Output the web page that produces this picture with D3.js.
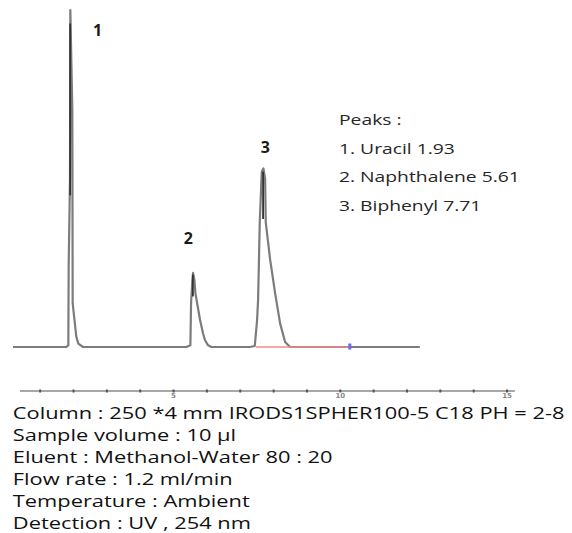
<!DOCTYPE html>
<html>
<head>
<meta charset="utf-8">
<script src="https://cdnjs.cloudflare.com/ajax/libs/d3/7.8.5/d3.min.js"></script>
<style>
  body { margin: 0; background: #fff; }
  svg { display: block; }
</style>
</head>
<body>
<div id="chart"></div>
<script>
// Trace: retention time (min) and signal (% of peak 1)
var traceTime = [0.2, 1.80, 1.86, 1.87, 1.91, 1.92, 1.98, 1.99, 2.10, 2.16, 2.30,
  5.40, 5.52, 5.54, 5.58, 5.60, 5.64, 5.67, 5.74, 5.81, 5.90, 5.96, 6.05, 6.15,
  7.30, 7.45, 7.52, 7.55, 7.60, 7.66, 7.71, 7.76, 7.78, 7.91, 8.06, 8.21, 8.36, 8.51, 12.4];
var traceSignal = [0, 0, 0.5, 24, 50, 100, 70, 13, 3, 1, 0,
  0, 0.5, 13, 20, 22, 20, 16, 12, 8, 4, 2, 0.5, 0,
  0, 0.3, 8, 14, 37, 52, 53, 50, 37, 26, 16, 7, 1.5, 0, 0];

// Peak numbers and retention times
var peakNames = ["Uracil", "Naphthalene", "Biphenyl"];
var peakTimes = [1.93, 5.61, 7.71];
var peakHeights = [100, 22, 53];

// Integration baseline of peak 3 (red) and its end marker (blue)
var integStart = 7.49;
var integEnd = 10.3;

// Time axis
var axisStart = 0.41;
var axisEnd = 15.25;
var axisTicks = d3.range(1, 16);
var axisLabels = [5, 10, 15];

var conditions = [
  "Column : 250 *4 mm IRODS1SPHER100-5 C18 PH = 2-8",
  "Sample volume : 10 \u00b5l",
  "Eluent : Methanol-Water 80 : 20",
  "Flow rate : 1.2 ml/min",
  "Temperature : Ambient",
  "Detection : UV , 254 nm"
];

var svgWidth = 572;
var svgHeight = 533;

var svg = d3.select("#chart")
  .append("svg")
  .attr("width", svgWidth)
  .attr("height", svgHeight);

// Scales
var x = d3.scaleLinear().domain([0, 15]).range([6.3, 6.3 + 15 * 33.35]);
var y = d3.scaleLinear().domain([0, 100]).range([347, 10]);

var trace = traceTime.map((t, i) => [t, traceSignal[i]]);

var line = d3.line()
  .x(d => x(d[0]))
  .y(d => y(d[1]));

svg.append("path")
  .datum(trace)
  .attr("fill", "none")
  .attr("stroke", "#7c7c7c")
  .attr("stroke-width", 2.2)
  .attr("stroke-linejoin", "round")
  .attr("d", line);

// dark cores on the peaks (the trace overlaps itself there)
var cores = [[[1.915, 96], [1.915, 45]], [[5.595, 21.5], [5.595, 15]], [[7.70, 52], [7.70, 38]]];
cores.forEach(c => {
  svg.append("path")
    .datum(c)
    .attr("stroke", "#333")
    .attr("stroke-width", 1.8)
    .attr("d", line);
});

// red integration baseline and blue marker
svg.append("line")
  .attr("x1", x(integStart))
  .attr("x2", x(integEnd))
  .attr("y1", y(0))
  .attr("y2", y(0))
  .attr("stroke", "#f08a8a")
  .attr("stroke-width", 1.6);

svg.append("rect")
  .attr("x", x(integEnd) - 1.5)
  .attr("y", y(0) - 3.5)
  .attr("width", 3)
  .attr("height", 6)
  .attr("fill", "#6a6af0");

// Peak numbers
var labelDx = [27, -5, 2];
var labelDy = [26, -29, -15];
svg.selectAll("text.peakNum")
  .data(peakTimes)
  .enter().append("text")
  .attr("class", "peakNum")
  .attr("x", (d, i) => x(d) + labelDx[i])
  .attr("y", (d, i) => y(peakHeights[i]) + labelDy[i])
  .attr("text-anchor", "middle")
  .attr("font-family", "Open Sans")
  .attr("font-size", 16)
  .attr("font-weight", 700)
  .attr("fill", "#1a1a1a")
  .text((d, i) => i + 1);

// Peaks legend
var legend = svg.append("g")
  .attr("font-family", "Open Sans")
  .attr("font-size", 14)
  .attr("fill", "#262626");

var legendLines = ["Peaks :"].concat(peakNames.map((n, i) => (i + 1) + ". " + n + " " + peakTimes[i].toFixed(2)));
legend.selectAll("text")
  .data(legendLines)
  .enter().append("text")
  .attr("x", 0)
  .attr("y", (d, i) => i * 28.7)
  .text(d => d);

var legendScale = 181 / legend.selectAll("text").nodes()[2].getComputedTextLength();
legend.attr("transform", `translate(339, 125) scale(${legendScale}, 1)`);

// Time axis
var axisG = svg.append("g")
  .attr("transform", "translate(0, 391)");

axisG.append("line")
  .attr("x1", x(axisStart))
  .attr("x2", x(axisEnd))
  .attr("stroke", "#8a8a8a")
  .attr("stroke-width", 1.3);

var bottomAxis = d3.axisBottom(x)
  .tickValues(axisTicks)
  .tickSizeInner(2)
  .tickSizeOuter(0)
  .tickPadding(0)
  .tickFormat(d => axisLabels.indexOf(d) >= 0 ? d : "");

axisG.append("g")
  .call(bottomAxis)
  .call(g => g.select(".domain").remove())
  .call(g => g.selectAll(".tick line")
    .attr("y1", -1.5)
    .attr("y2", 1.5)
    .attr("stroke", "#555")
    .attr("stroke-width", 2))
  .call(g => g.selectAll(".tick text")
    .filter(d => axisLabels.indexOf(d) < 0)
    .remove())
  .call(g => g.selectAll(".tick text")
    .attr("font-family", "DejaVu Sans")
    .attr("font-size", 7)
    .attr("font-weight", 700)
    .attr("fill", "#888"));

// Run conditions
var cond = svg.append("g")
  .attr("font-family", "Open Sans")
  .attr("font-size", 17)
  .attr("fill", "#111");

cond.selectAll("text")
  .data(conditions)
  .enter().append("text")
  .attr("x", 0)
  .attr("y", (d, i) => i * 22)
  .text(d => d);

var condScale = 552 / cond.select("text").node().getComputedTextLength();
cond.attr("transform", `translate(12.8, 419) scale(${condScale}, 1)`);
</script>
</body>
</html>
